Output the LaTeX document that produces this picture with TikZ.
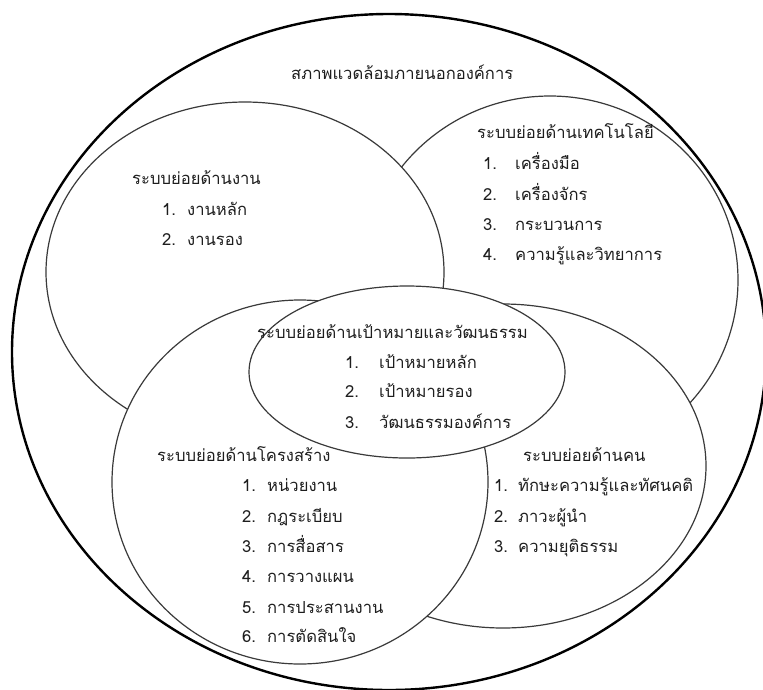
\documentclass[tikz,border=0pt]{standalone}
\usepackage{fontspec}
\newfontfamily\thaifont[Script=Thai]{Loma}
\usetikzlibrary{shapes.geometric}
\definecolor{linegray}{HTML}{3A3A3A}
\definecolor{textgray}{HTML}{1E1E1E}
\newcommand{\myitem}[3]{\makebox[#1pt][l]{#2}#3}
\begin{document}
\begin{tikzpicture}[x=1pt,y=-1pt,
  circ/.style={ellipse, draw=linegray, line width=1.2pt, fill=white, inner sep=0pt},
  txt/.style={anchor=base west, inner sep=0pt, yshift=-4.8pt, font=\thaifont\fontsize{16.6}{19}\selectfont, text=textgray}]
\useasboundingbox (0,0) rectangle (763,689);
% outer environment
\node[circ, draw=black, line width=2.4pt, minimum width=754pt, minimum height=676pt] (outer) at (389,352) {};
% subsystems (drawing order = overlap order)
\node[circ, minimum width=376pt, minimum height=368pt] (tech) at (550,280) {};
\node[circ, minimum width=398pt, minimum height=340pt] (work) at (245,272) {};
\node[circ, minimum width=406pt, minimum height=324pt] (people) at (503,466) {};
\node[circ, minimum width=376pt, minimum height=364pt] (struct) at (300,482) {};
\node[circ, minimum width=316pt, minimum height=172pt] (goal) at (407,372) {};
% texts
\node[txt] (env) at (291,75) {สภาพแวดล้อมภายนอกองค์การ};
\node[txt] (workT) at (132,180) {ระบบย่อยด้านงาน};
\node[txt] (work1) at (162,211) {\myitem{25}{1.}{งานหลัก}};
\node[txt] (work2) at (162,241) {\myitem{25}{2.}{งานรอง}};
\node[txt] (techT) at (477,134) {ระบบย่อยด้านเทคโนโลยี};
\node[txt] (tech1) at (483,165) {\myitem{32}{1.}{เครื่องมือ}};
\node[txt] (tech2) at (483,196) {\myitem{32}{2.}{เครื่องจักร}};
\node[txt] (tech3) at (483,226) {\myitem{32}{3.}{กระบวนการ}};
\node[txt] (tech4) at (483,256) {\myitem{32}{4.}{ความรู้และวิทยาการ}};
\node[txt] (goalT) at (257,334) {ระบบย่อยด้านเป้าหมายและวัฒนธรรม};
\node[txt] (goal1) at (345,364) {\myitem{34}{1.}{เป้าหมายหลัก}};
\node[txt] (goal2) at (345,393) {\myitem{34}{2.}{เป้าหมายรอง}};
\node[txt] (goal3) at (345,424) {\myitem{34}{3.}{วัฒนธรรมองค์การ}};
\node[txt] (structT) at (157,457) {ระบบย่อยด้านโครงสร้าง};
\node[txt] (struct1) at (242,487) {\myitem{25}{1.}{หน่วยงาน}};
\node[txt] (struct2) at (242,518) {\myitem{25}{2.}{กฎระเบียบ}};
\node[txt] (struct3) at (242,548) {\myitem{25}{3.}{การสื่อสาร}};
\node[txt] (struct4) at (242,578) {\myitem{25}{4.}{การวางแผน}};
\node[txt] (struct5) at (242,609) {\myitem{25}{5.}{การประสานงาน}};
\node[txt] (struct6) at (242,638) {\myitem{25}{6.}{การตัดสินใจ}};
\node[txt] (peopleT) at (523,457) {ระบบย่อยด้านคน};
\node[txt] (people1) at (494,487) {\myitem{24}{1.}{ทักษะความรู้และทัศนคติ}};
\node[txt] (people2) at (494,518) {\myitem{24}{2.}{ภาวะผู้นำ}};
\node[txt] (people3) at (494,548) {\myitem{24}{3.}{ความยุติธรรม}};
\end{tikzpicture}
\end{document}
